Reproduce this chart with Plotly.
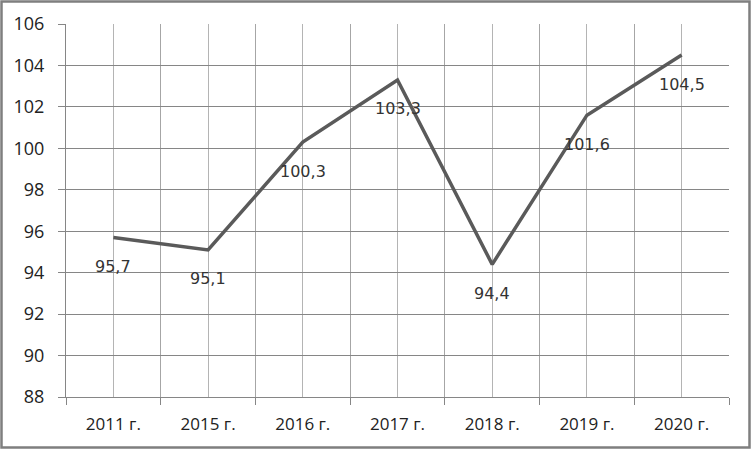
import plotly.graph_objects as go

categories = ["2011 г.", "2015 г.", "2016 г.", "2017 г.", "2018 г.", "2019 г.", "2020 г."]
values = [95.7, 95.1, 100.3, 103.3, 94.4, 101.6, 104.5]
y_ticks = [88, 90, 92, 94, 96, 98, 100, 102, 104, 106]

W, H = 752, 450
ML, MR, MT, MB = 66, 23, 24, 53
pw, ph = W - ML - MR, H - MT - MB

xs = list(range(len(categories)))
tick_font = "'Open Sans', sans-serif"
label_font = "'DejaVu Sans', sans-serif"

fig = go.Figure()
fig.add_trace(go.Scatter(
    x=xs, y=values, mode="lines",
    line=dict(color="#5a5a5a", width=3.5),
    hoverinfo="skip", showlegend=False,
))

for x, v in zip(xs, values):
    fig.add_annotation(
        x=x, y=v, text=f"{v:.1f}".replace(".", ","),
        showarrow=False, yshift=-29,
        font=dict(family=label_font, size=16, color="#333333"),
    )

boundaries = [i - 0.5 for i in range(len(categories) + 1)]

fig.update_xaxes(
    range=[-0.5, len(categories) - 0.5],
    tickvals=xs, ticktext=categories,
    showgrid=True, gridcolor="#b4b4b4", gridwidth=1,
    ticks="", showline=True, linecolor="#868686", linewidth=1,
    zeroline=False, automargin=False,
    tickfont=dict(family=tick_font, size=17, color="#222222"),
    ticklabelstandoff=12,
    minor=dict(tickvals=boundaries, showgrid=True, gridcolor="#a6a6a6", gridwidth=1,
               ticks="outside", ticklen=7, tickcolor="#868686"),
    fixedrange=True,
)
fig.update_yaxes(
    range=[88, 106], tickvals=y_ticks,
    showgrid=True, gridcolor="#868686", gridwidth=1,
    ticks="outside", ticklen=7, tickcolor="#868686",
    showline=True, linecolor="#868686", linewidth=1,
    zeroline=False, automargin=False,
    tickfont=dict(family=tick_font, size=18, color="#222222"),
    ticklabelstandoff=10,
    fixedrange=True,
)

fig.add_shape(
    type="rect", xref="paper", yref="paper",
    x0=-(ML - 1.5) / pw, x1=1 + (MR - 2.5) / pw,
    y0=-(MB - 2.5) / ph, y1=1 + (MT - 1.5) / ph,
    line=dict(color="#7f7f7f", width=2.5), layer="above",
)

fig.update_layout(
    width=W, height=H,
    margin=dict(l=ML, r=MR, t=MT, b=MB, pad=0, autoexpand=False),
    paper_bgcolor="white", plot_bgcolor="white",
    font=dict(family=tick_font),
)

fig.write_html(
    "out.html",
    config={"displayModeBar": False},
    post_script="document.body.style.margin='0';document.body.style.padding='0';",
)
